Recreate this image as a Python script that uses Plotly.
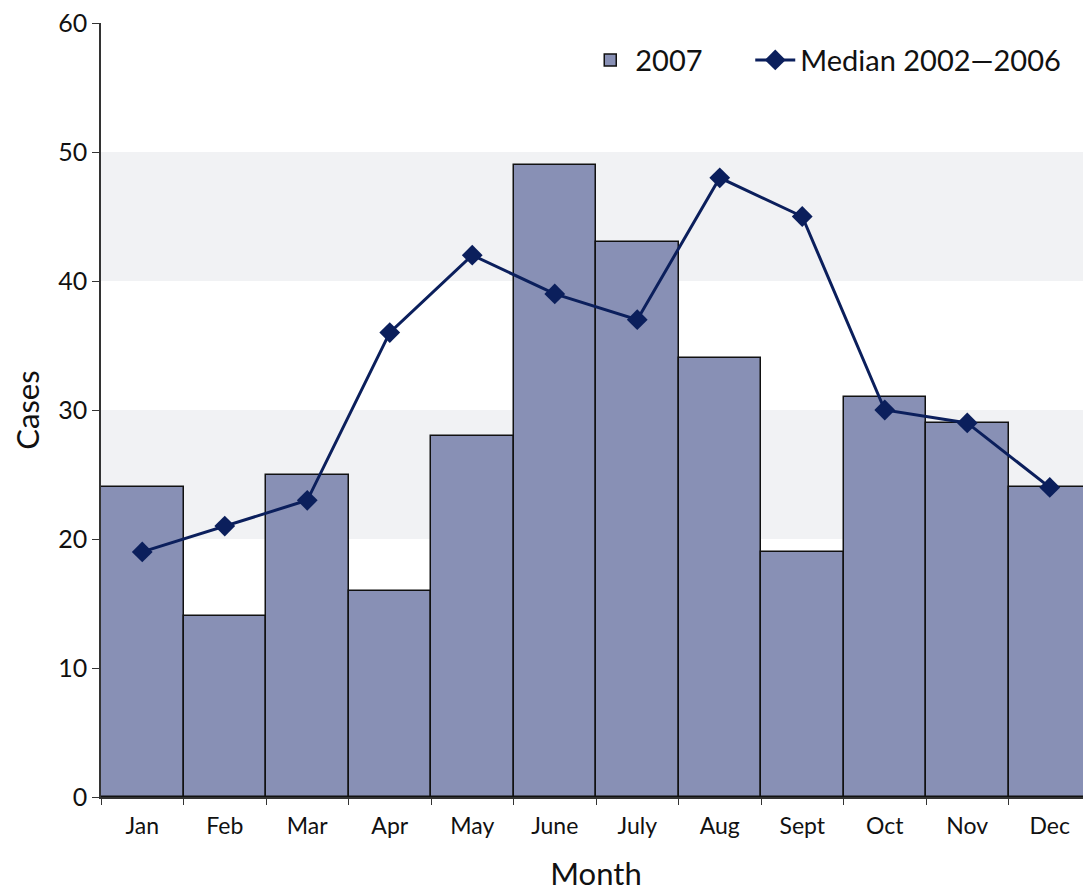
import plotly.graph_objects as go

months = ["Jan", "Feb", "Mar", "Apr", "May", "June", "July", "Aug", "Sept", "Oct", "Nov", "Dec"]
cases_2007 = [24, 14, 25, 16, 28, 49, 43, 34, 19, 31, 29, 24]
median_2002_2006 = [19, 21, 23, 36, 42, 39, 37, 48, 45, 30, 29, 24]
band_ranges = [(20, 30), (40, 50)]

FONT = "Lato"
fig = go.Figure()
fig.add_trace(go.Bar(
    x=months, y=cases_2007, name="2007", legendwidth=110,
    marker=dict(color="#8890b5", line=dict(color="#111111", width=1.5)),
))
fig.add_trace(go.Scatter(
    x=months, y=median_2002_2006, name="Median 2002\u20142006",
    mode="lines+markers",
    line=dict(color="#0b1f5c", width=3),
    marker=dict(symbol="diamond", size=16, color="#0b1f5c"),
))
for lo, hi in band_ranges:
    fig.add_shape(type="rect", xref="paper", x0=0, x1=1, yref="y", y0=lo, y1=hi,
                  fillcolor="#f1f2f4", line=dict(width=0), layer="below")

fig.update_layout(
    width=1083, height=884,
    margin=dict(l=93, r=0, t=15, b=95),
    plot_bgcolor="white", paper_bgcolor="white",
    bargap=0,
    font=dict(family=FONT, color="#111111"),
    legend=dict(orientation="h", x=0.975, xanchor="right", y=0.985, yanchor="top",
                font=dict(size=29, family=FONT), bgcolor="rgba(0,0,0,0)",
                itemwidth=40, tracegroupgap=0),
    showlegend=True,
)
fig.update_xaxes(
    title=dict(text="Month", font=dict(size=31, family=FONT), standoff=30),
    tickfont=dict(size=23, family=FONT), ticklabelstandoff=8,
    showline=True, linecolor="#333333", linewidth=1.5,
    ticks="outside", tickson="boundaries", ticklen=6, tickcolor="#333333",
    showgrid=False, range=[-0.5, 11.5], automargin=False,
)
fig.update_yaxes(
    title=dict(text="Cases", font=dict(size=31, family=FONT), standoff=16),
    tickfont=dict(size=25, family=FONT), ticklabeloverflow="allow",
    range=[0, 60], dtick=10,
    showline=True, linecolor="#333333", linewidth=1.5,
    ticks="outside", ticklen=7, tickcolor="#333333",
    showgrid=False, zeroline=False, automargin=False,
)
fig.write_html("out.html")
